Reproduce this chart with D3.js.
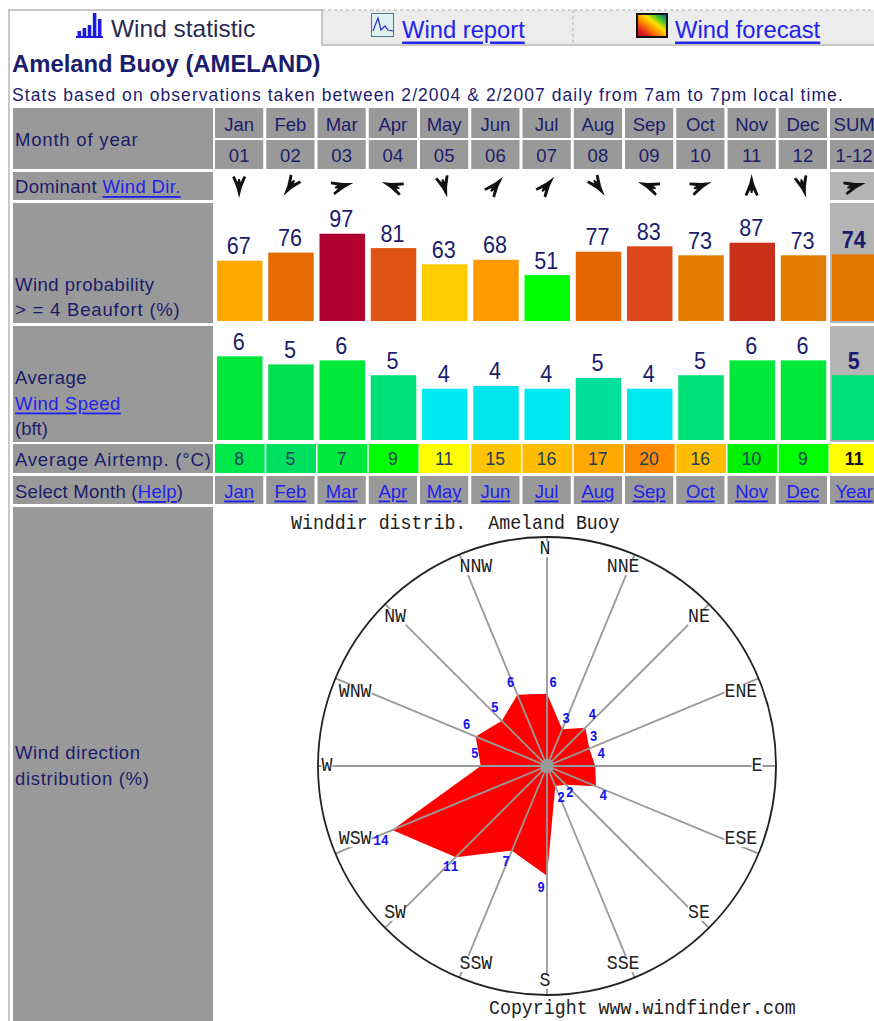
<!DOCTYPE html>
<html>
<head>
<meta charset="utf-8">
<script src="https://cdnjs.cloudflare.com/ajax/libs/d3/7.8.5/d3.min.js"></script>
<style>
  html, body { margin: 0; padding: 0; background: #fff; overflow: hidden; }
  svg { display: block; }
  text { font-family: "Liberation Sans", Arial, sans-serif; }
  text.mono { font-family: "Liberation Mono", "DejaVu Sans Mono", monospace; }
</style>
</head>
<body>
<div id="chart"></div>
<script>
// table values
const months = ['Jan','Feb','Mar','Apr','May','Jun','Jul','Aug','Sep','Oct','Nov','Dec','SUM'];
const monthNums = ['01','02','03','04','05','06','07','08','09','10','11','12','1-12'];
const selectLabels = ['Jan','Feb','Mar','Apr','May','Jun','Jul','Aug','Sep','Oct','Nov','Dec','Year'];
const domFrom = [0,35,255,110,345,220,220,325,110,250,180,345,255]; // degrees the wind comes from
const windProb = [67,76,97,81,63,68,51,77,83,73,87,73,74];
const speedValues = [6.2,5.6,5.9,4.8,3.8,4.0,3.8,4.6,3.8,4.8,5.9,5.9,4.8];
const speedLabels = [6,5,6,5,4,4,4,5,4,5,6,6,5];
const airTemp = [8,5,7,9,11,15,16,17,20,16,10,9,11];

// wind rose, clockwise from north
const directions = ['N','NNE','NE','ENE','E','ESE','SE','SSE','S','SSW','SW','WSW','W','WNW','NW','NNW'];
const dirValues = [6,3.3,4.5,3.8,4,4.4,2.2,1.8,9.1,7.6,10.7,13.9,5.5,6.4,5.3,6.4];
const dirLabels = [6,3,4,3,4,4,2,2,9,7,11,14,5,6,5,6];

const width = 874, height = 1021;
const gray = '#999999', lightGray = '#b4b4b4', navy = '#1c1c6c', link = '#2222ee';

const svg = d3.select('#chart').append('svg')
  .attr('width', width).attr('height', height);

// small helper, all page text goes through here
function txt(g, str, x, y, o = {}) {
  const t = g.append('text')
    .attr('transform', `translate(${x},${y}) scale(${o.sx || 1},1)`)
    .attr('dominant-baseline', 'central')
    .attr('text-anchor', o.anchor || 'start')
    .attr('font-size', o.size || 18)
    .attr('font-weight', o.weight || 'normal')
    .attr('letter-spacing', o.spacing || 0)
    .attr('fill', o.fill || navy);
  if (o.underline) t.attr('text-decoration', 'underline');
  if (o.cls) t.attr('class', o.cls);
  t.text(str);
  return t;
}

const x = d3.scaleBand().domain(months).range([214, 214 + 13 * 51.25]).paddingInner(0);
const cellX = d => x(d) + 1;
const cellW = x.bandwidth() - 3;
const barX = d => x(d) + 3;
const barW = 45.5;

/* ---- tabs ---- */
const tabs = svg.append('g');
tabs.append('rect').attr('x', 322).attr('y', 10).attr('width', 552).attr('height', 35).attr('fill', '#ececec');
tabs.append('path').attr('d', 'M322,10H874M573,10V45').attr('stroke', '#aaa').attr('stroke-dasharray', '3,3').attr('fill', 'none');
tabs.append('path').attr('d', 'M9,1021V10H322V45H874').attr('stroke', '#b8b8b8').attr('stroke-width', 1.5).attr('fill', 'none');

const tabBars = [6, 9, 12, 24, 18];
const tabBarX = d3.scaleBand().domain(d3.range(tabBars.length)).range([76, 103]).padding(0.3);
tabs.selectAll('.tabbar').data(tabBars).enter().append('rect')
  .attr('x', (d, i) => tabBarX(i)).attr('width', tabBarX.bandwidth())
  .attr('y', d => 37 - d).attr('height', d => d).attr('fill', '#1a1ae0');
tabs.append('rect').attr('x', 76).attr('y', 36).attr('width', 27).attr('height', 2).attr('fill', '#1a1ae0');

txt(tabs, 'Wind statistic', 111, 29, { size: 24, fill: '#2a2a50', sx: 1.02 });

tabs.append('rect').attr('x', 371.5).attr('y', 13.5).attr('width', 22).attr('height', 23).attr('fill', '#dff0f0').attr('stroke', '#4a7a8a');
tabs.append('path').attr('d', 'M373,31L378,18L381,30L385,26L388,30L393,31').attr('fill', 'none').attr('stroke', '#2233cc').attr('stroke-width', 1.2);
txt(tabs, 'Wind report', 402, 29, { size: 24, fill: link, underline: true, sx: 0.99 });

const grad = svg.append('defs').append('linearGradient').attr('id', 'fc')
  .attr('x1', 0).attr('y1', 1).attr('x2', 1).attr('y2', 0);
['#b01010', '#e02020', '#ff8000', '#ffe000', '#30c030', '#2040e0'].forEach((c, i) =>
  grad.append('stop').attr('offset', i / 5).attr('stop-color', c));
tabs.append('rect').attr('x', 637).attr('y', 14).attr('width', 30).attr('height', 23).attr('fill', 'url(#fc)').attr('stroke', '#111').attr('stroke-width', 2);
txt(tabs, 'Wind forecast', 675, 29, { size: 24, fill: link, underline: true, sx: 0.99 });

txt(svg, 'Ameland Buoy (AMELAND)', 12, 64, { size: 23, weight: 'bold', sx: 1.037 });
txt(svg, 'Stats based on observations taken between 2/2004 & 2/2007 daily from 7am to 7pm local time.', 12, 95, { size: 17.5, spacing: 1.07 });

/* ---- left gray label column ---- */
const rowBlocks = [[108, 169], [172, 200], [203, 323], [326, 442], [444, 473], [476, 504], [507, 1021]];
svg.selectAll('.block').data(rowBlocks).enter().append('rect')
  .attr('x', 13).attr('width', 200)
  .attr('y', d => d[0]).attr('height', d => d[1] - d[0]).attr('fill', gray);

txt(svg, 'Month of year', 15, 139, { size: 18.5, spacing: 0.8 });
const dom = txt(svg, 'Dominant ', 15, 186, { size: 18.5, spacing: 0.35 });
dom.append('tspan').attr('fill', link).attr('text-decoration', 'underline').text('Wind Dir.');
txt(svg, 'Wind probability', 15, 284, { size: 18.5, spacing: 0.5 });
txt(svg, '> = 4 Beaufort (%)', 15, 309, { size: 18.5, spacing: 0.8 });
txt(svg, 'Average', 15, 377, { size: 18.5, spacing: 0.5 });
txt(svg, 'Wind Speed', 15, 403, { size: 18.5, fill: link, underline: true, spacing: 0.5 });
txt(svg, '(bft)', 15, 428, { size: 18.5 });
txt(svg, 'Average Airtemp. (°C)', 15, 459, { size: 18.5, spacing: 0.8 });
const sel = txt(svg, 'Select Month (', 15, 491, { size: 18.5, spacing: 0.25 });
sel.append('tspan').attr('fill', link).attr('text-decoration', 'underline').text('Help');
sel.append('tspan').text(')');
txt(svg, 'Wind direction', 15, 752, { size: 18.5, spacing: 0.6 });
txt(svg, 'distribution (%)', 15, 778, { size: 18.5, spacing: 0.7 });

/* ---- header rows ---- */
[[108, 138, months], [140, 169, monthNums], [476, 504, selectLabels]].forEach(([y0, y1, labels], r) => {
  const g = svg.append('g');
  g.selectAll('rect').data(months).enter().append('rect')
    .attr('x', cellX).attr('width', cellW).attr('y', y0).attr('height', y1 - y0).attr('fill', gray);
  labels.forEach((l, i) => txt(g, l, x(months[i]) + cellW / 2 + 1, (y0 + y1) / 2 + 1, {
    anchor: 'middle', size: 18.5,
    fill: r === 2 ? link : navy, underline: r === 2
  }));
});

// sum column has a lighter backdrop behind direction, probability, speed
const sumBack = [[172, 200], [203, 323], [326, 442]];
svg.selectAll('.sumback').data(sumBack).enter().append('rect')
  .attr('x', x('SUM') + 1).attr('width', 60)
  .attr('y', d => d[0]).attr('height', d => d[1] - d[0]).attr('fill', lightGray);

/* ---- dominant direction arrows ---- */
const arrowShape = 'M0,-12L2.5,-2L7,9L4.5,10L1.5,4L0.8,7L-0.8,7L-1.5,4L-4.5,10L-7,9L-2.5,-2Z';
svg.selectAll('.arrow').data(months).enter().append('path')
  .attr('d', arrowShape)
  .attr('transform', (d, i) => `translate(${x(d) + cellW / 2 + 1},186) rotate(${domFrom[i] + 180})`)
  .attr('fill', '#111');

/* ---- wind probability bars ---- */
const yProb = d3.scaleLinear().domain([0, 100]).range([321, 231]);
const probColor = d3.scaleLinear()
  .domain([51, 52, 63, 67, 68, 73, 77, 83, 87, 97])
  .range(['#00ff00', '#ffd000', '#ffcc00', '#ffa800', '#ff9a00', '#e47e00', '#e46600', '#dc4a1c', '#c83018', '#b00030']);

svg.selectAll('.probbar').data(windProb).enter().append('rect')
  .attr('x', (d, i) => barX(months[i])).attr('width', barW)
  .attr('y', d => yProb(d)).attr('height', d => yProb(0) - yProb(d))
  .attr('fill', d => probColor(d));
windProb.forEach((d, i) => txt(svg, d, barX(months[i]) + barW / 2 - 1, yProb(d) - 15, {
  anchor: 'middle', size: 24, sx: 0.9, weight: i === 12 ? 'bold' : 'normal'
}));

/* ---- average speed bars ---- */
const ySpeed = d3.scaleLinear().domain([0, 6]).range([440, 359]);
const speedColor = d3.scaleLinear()
  .domain([3.8, 4.0, 4.6, 4.8, 5.6, 5.9, 6.2])
  .range(['#00e8f0', '#00e4ec', '#00e098', '#00e078', '#00e050', '#00e83a', '#00e83a']);

svg.selectAll('.speedbar').data(speedValues).enter().append('rect')
  .attr('x', (d, i) => barX(months[i])).attr('width', barW)
  .attr('y', d => ySpeed(d)).attr('height', d => ySpeed(0) - ySpeed(d))
  .attr('fill', d => speedColor(d));
speedLabels.forEach((d, i) => txt(svg, d, barX(months[i]) + barW / 2 - 1, ySpeed(speedValues[i]) - 15, {
  anchor: 'middle', size: 24, sx: 0.9, weight: i === 12 ? 'bold' : 'normal'
}));

/* ---- air temperature cells ---- */
const tempColor = d3.scaleLinear()
  .domain([5, 7, 8, 9, 10, 10.5, 11, 15, 16, 17, 20])
  .range(['#00e060', '#00e83c', '#00e84a', '#00ff00', '#00f000', '#ffff00', '#ffff00', '#ffc400', '#ffbc00', '#ffa800', '#ff8c00']);
svg.selectAll('.tempcell').data(airTemp).enter().append('rect')
  .attr('x', (d, i) => x(months[i]) + 1).attr('width', x.bandwidth() - 1.5)
  .attr('y', 444).attr('height', 29)
  .attr('fill', d => tempColor(d));
airTemp.forEach((d, i) => txt(svg, d, x(months[i]) + cellW / 2 + 1, 459, {
  anchor: 'middle', size: 18.5, sx: 0.95, fill: i === 12 ? '#111' : '#1a4060', weight: i === 12 ? 'bold' : 'normal'
}));

/* ---- wind rose ---- */
const cx = 547, cy = 766;
const rose = svg.append('g').attr('transform', `translate(${cx},${cy})`);
const r = d3.scaleLinear().domain([0, 19]).range([0, 229]);
const angle = d3.scalePoint().domain(directions).range([0, 2 * Math.PI * 15 / 16]);
const polar = (a, rad) => [rad * Math.sin(a), -rad * Math.cos(a)];

rose.append('path')
  .datum(dirValues)
  .attr('d', d3.lineRadial().angle((d, i) => angle(directions[i])).radius(d => r(d)).curve(d3.curveLinearClosed))
  .attr('fill', '#ff0000');

rose.selectAll('.spoke').data(directions).enter().append('line')
  .attr('x2', d => polar(angle(d), r(19))[0])
  .attr('y2', d => polar(angle(d), r(19))[1])
  .attr('stroke', '#999').attr('stroke-width', 1.8);
rose.append('circle').attr('r', 7).attr('fill', '#999');
rose.append('circle').attr('r', r(19)).attr('fill', 'none').attr('stroke', '#222').attr('stroke-width', 1.8);

// white backing so the compass names cut the spokes
const compassR = 212;
const compassNudge = [[-2,-5],[-5,-3],[2,1],[-2,7],[-2,0],[-2,-8],[2,-3],[-5,2],[-2,3],[10,2],[-2,-3],[4,-8],[-8,0],[4,7],[-2,1],[10,-3]];
directions.forEach((d, i) => {
  const [px, py] = polar(angle(d), compassR);
  const tx = px + compassNudge[i][0], ty = py + compassNudge[i][1];
  rose.append('rect').attr('x', tx - d.length * 5.5).attr('y', ty - 8)
    .attr('width', d.length * 11).attr('height', 16).attr('fill', '#fff');
  txt(rose, d, tx, ty, { anchor: 'middle', size: 21, cls: 'mono', fill: '#222', sx: 0.87 });
});

// value labels sit just outside the polygon, each nudged off the spokes
const labelNudge = [[6,-1],[0,-1],[0,-6],[-5,-8],[-4,-12],[-2,6],[-3,1],[2,2],[-6,2],[-2,2],[2,2],[-2,7],[4,-12],[0,-8],[0,-6],[-3,-3]];
directions.forEach((d, i) => {
  const [px, py] = polar(angle(d), r(dirValues[i]) + 10);
  txt(rose, dirLabels[i], px + labelNudge[i][0], py + labelNudge[i][1], {
    anchor: 'middle', size: 15, cls: 'mono', fill: '#1414f0', weight: 'bold', sx: 0.85
  });
});

txt(svg, 'Winddir distrib.\u00a0\u00a0Ameland Buoy', 291, 524, { size: 21, cls: 'mono', fill: '#222', sx: 0.87 });
txt(svg, 'Copyright www.windfinder.com', 489, 1009, { size: 21, cls: 'mono', fill: '#222', sx: 0.87 });
</script>
</body>
</html>
